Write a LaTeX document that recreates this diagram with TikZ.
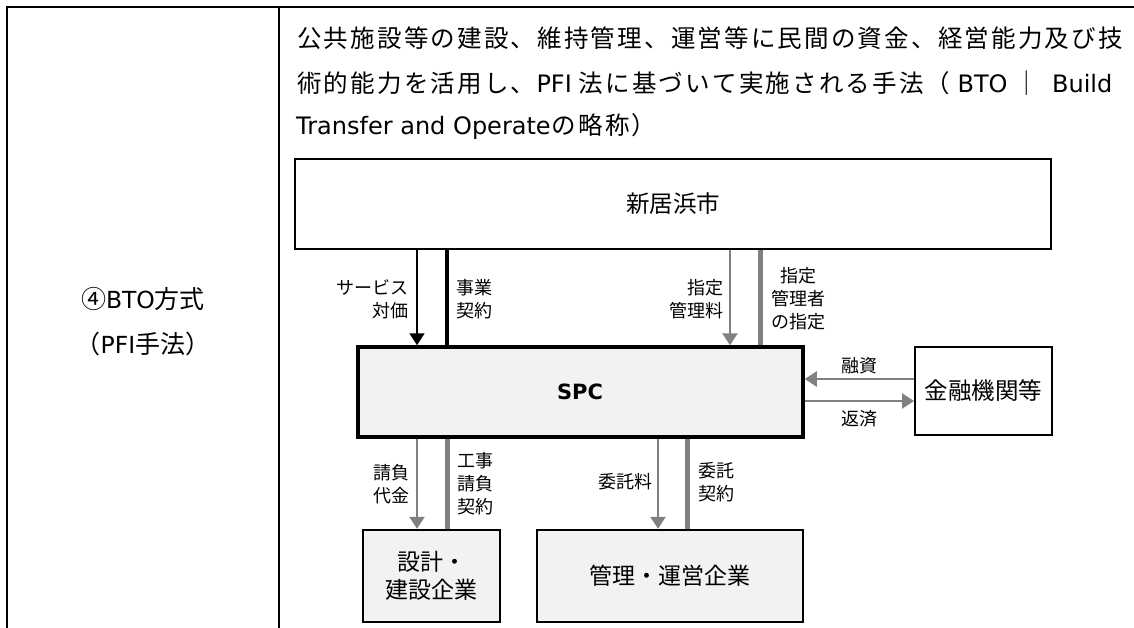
\documentclass[tikz,border=0pt]{standalone}
\usepackage{fontspec}
\setmainfont{Noto Sans CJK JP}
\newfontfamily\lat{DejaVu Sans}
\usetikzlibrary{arrows.meta}
\definecolor{arrgray}{RGB}{128,128,128}
\definecolor{boxfill}{RGB}{242,242,242}
\newdimen\grpitch
\grpitch=26.7pt
\def\grloop#1{\ifx#1\relax\else\makebox[\grpitch]{#1}\expandafter\grloop\fi}
\newcommand\gr[1]{\grloop#1\relax}
\newcommand\lt[1]{{\lat\fontsize{24}{26}\selectfont #1}}
\newcommand\ltc[1]{{\lat\fontsize{23.5}{26}\selectfont #1}}
\begin{document}
\begin{tikzpicture}[x=1pt,y=-1pt,
  desc/.style={anchor=west, inner sep=0pt, font=\fontsize{24.5}{28}\selectfont},
  colhead/.style={inner sep=0pt, align=center, font=\fontsize{25}{45}\selectfont},
  lbl/.style={inner sep=0pt, font=\fontsize{18}{23}\selectfont},
  boxname/.style={font=\fontsize{23.5}{28}\selectfont},
  ent/.style={draw=black, inner sep=0pt, line width=2.5pt, align=center},
  blackarr/.style={draw=black, line width=1.8pt, -{Triangle[length=12pt,width=15pt]}},
  blackbar/.style={draw=black, line width=4.2pt},
  grayarr/.style={draw=arrgray, line width=2.5pt, -{Triangle[length=12pt,width=15pt]}},
  graybar/.style={draw=arrgray, line width=5pt}]
\useasboundingbox (0,0) rectangle (1134,628);
% table frame
\coordinate (tl) at (7,7);
\coordinate (tr) at (1134,7);
\coordinate (bl) at (7,628);
\coordinate (dt) at (279,7);
\coordinate (db) at (279,628);
\draw[line width=2pt] (bl) -- (tl) -- (tr);
\draw[line width=2pt] (dt) -- (db);
% left column
\node[colhead] (method) at (143,322) {④\ltc{BTO}方式\\（\ltc{PFI}手法）};
% description
\node[desc] (d1) at (296,38) {\gr{公共施設等の建設、維持管理、運営等に民間の資金、経営能力及び技}};
\node[desc] (d2) at (296,83) {\makebox[828pt][l]{\gr{術的能力を活用し、}\lt{PFI}\hskip 0pt plus 0.5fil\gr{法に基づいて実施される手法（}\hskip 0pt plus 0.5fil\lt{BTO}\hskip 0pt plus 0.5fil\gr{｜}\hfil\lt{Build}}};
\node[desc] (d3) at (296,127) {\lt{Transfer and Operate}\gr{の略称）}};
% boxes
\node[ent, minimum width=756pt, minimum height=90pt] (city) at (673,204) {};
\node[boxname] at (city) {新居浜市};
\node[ent, fill=boxfill, line width=3.5pt, minimum width=445pt, minimum height=90pt] (spc) at (580.5,392) {};
\node[font=\lat\bfseries\fontsize{21}{24}\selectfont] at (580,392) {SPC};
\node[ent, line width=2pt, minimum width=137pt, minimum height=88pt, font=\fontsize{23.5}{28}\selectfont] (bank) at (983.5,391) {金融機関等};
\node[ent, fill=boxfill, minimum width=137pt, minimum height=92pt, font=\fontsize{23}{28}\selectfont] (design) at (431.5,576) {設計・\\建設企業};
\node[ent, fill=boxfill, minimum width=266pt, minimum height=92pt, font=\fontsize{23}{28}\selectfont] (mgmt) at (670,576) {管理・運営企業};
% connector x positions
\coordinate (a1) at (417,0);
\coordinate (a2) at (447,0);
\coordinate (a3) at (730,0);
\coordinate (a4) at (760,0);
\coordinate (b3) at (658,0);
\coordinate (b4) at (687,0);
\coordinate (h1) at (0,379);
\coordinate (h2) at (0,401);
% city -> spc
\draw[blackarr] (city.south -| a1) -- (spc.north -| a1);
\draw[blackbar] (city.south -| a2) -- (spc.north -| a2);
\draw[grayarr] (city.south -| a3) -- (spc.north -| a3);
\draw[graybar] (city.south -| a4) -- (spc.north -| a4);
% spc <-> bank
\draw[grayarr] (bank.west |- h1) -- (spc.east |- h1);
\draw[grayarr] (spc.east |- h2) -- (bank.west |- h2);
% spc -> contractors
\draw[grayarr] (spc.south -| a1) -- (design.north -| a1);
\draw[graybar] (spc.south -| a2) -- (design.north -| a2);
\draw[grayarr] (spc.south -| b3) -- (mgmt.north -| b3);
\draw[graybar] (spc.south -| b4) -- (mgmt.north -| b4);
% labels
\node[lbl, anchor=east, align=right] (l1) at (409,299) {サービス\\対価};
\node[lbl, anchor=west, align=left] (l2) at (456,299) {事業\\契約};
\node[lbl, anchor=east, align=right] (l3) at (724,299) {指定\\管理料};
\node[lbl, align=center] (l4) at (798,299) {指定\\管理者\\の指定};
\node[lbl] (l5) at (859,366) {融資};
\node[lbl] (l6) at (859,419) {返済};
\node[lbl, anchor=east, align=right] (l7) at (410,484) {請負\\代金};
\node[lbl, anchor=west, align=left] (l8) at (457,484) {工事\\請負\\契約};
\node[lbl, anchor=east] (l9) at (653,482) {委託料};
\node[lbl, anchor=west, align=left] (l10) at (698,482) {委託\\契約};
\end{tikzpicture}
\end{document}
